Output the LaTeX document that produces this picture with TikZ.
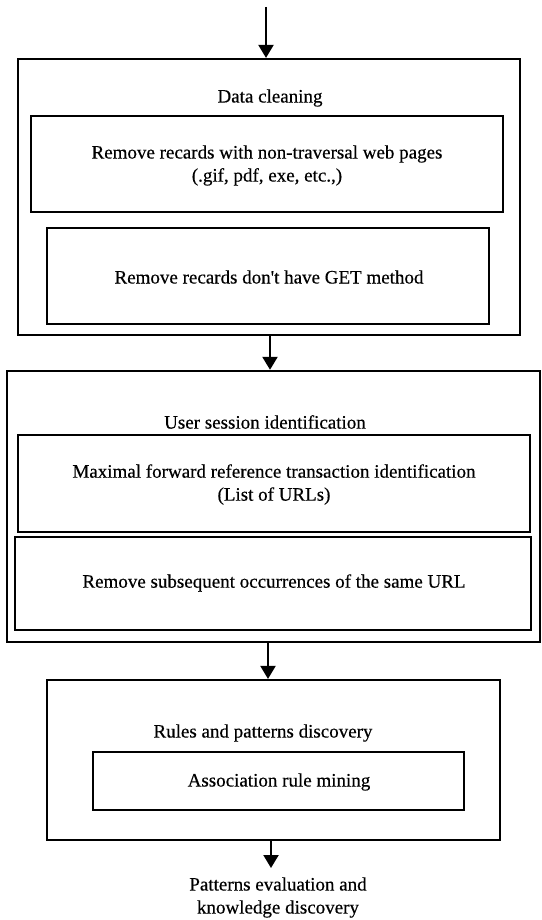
\documentclass[tikz,border=0pt]{standalone}
\usepackage{fontspec}
\setmainfont{Liberation Serif}
\newfontfamily\labelfont{Liberation Serif}[FakeBold=0.4]
\usetikzlibrary{arrows.meta}

\tikzset{
  box/.style={draw=black, line width=2.2pt, rectangle, inner sep=0pt, fill=none},
  heavybox/.style={box, line width=2.8pt},
  label/.style={inner sep=0pt, align=center, font=\labelfont\fontsize{19}{23}\selectfont},
  arr/.style={line width=2.2pt, -{Triangle[width=15pt,length=13pt]}},
}

\begin{document}
\begin{tikzpicture}[x=1pt, y=-1pt]
  % page frame
  \fill[white] (0,0) rectangle (541,920);
  \useasboundingbox (0,0) rectangle (541,920);

  % stage 1: data cleaning
  \node[box, minimum width=502pt, minimum height=276pt] (clean) at (269,197) {};
  \node[heavybox, minimum width=472pt, minimum height=96pt] (nontrav) at (267,164) {};
  \node[box, line width=2.5pt, minimum width=442pt, minimum height=96pt] (getm) at (268,276) {};
  \node[label] (cleanlbl) at (270,98) {Data cleaning};
  \node[label] (nontravlbl) at (267,165.5) {Remove recards with non-traversal web pages\\(.gif, pdf, exe, etc.,)};
  \node[label] (getmlbl) at (269,277) {Remove recards don\textquotesingle t have GET method};

  % stage 2: user session identification
  \node[box, line width=2.4pt, minimum width=533pt, minimum height=271pt] (sess) at (273.5,506.5) {};
  \node[box, minimum width=512pt, minimum height=97pt] (maxfwd) at (274,483.5) {};
  \node[box, minimum width=516pt, minimum height=93pt] (dedup) at (273,583.5) {};
  \node[label] (sesslbl) at (265,422) {User session identification};
  \node[label] (maxfwdlbl) at (274,484.5) {Maximal forward reference transaction identification\\(List of URLs)};
  \node[label] (deduplbl) at (274,583) {Remove subsequent occurrences of the same URL};

  % stage 3: rules and patterns discovery
  \node[box, minimum width=453pt, minimum height=160pt] (rules) at (273.5,760) {};
  \node[box, minimum width=371pt, minimum height=58pt] (assoc) at (278.5,781) {};
  \node[label] (ruleslbl) at (263,733) {Rules and patterns discovery};
  \node[label] (assoclbl) at (279,782) {Association rule mining};

  % result
  \node[label] (result) at (278,897.5) {Patterns evaluation and\\knowledge discovery};

  % flow arrows
  \coordinate (input) at (266,7);
  \coordinate (resulttop) at (271,868);
  \draw[arr] (input) -- (input |- clean.north);
  \draw[arr] ([xshift=1pt]clean.south) -- ([xshift=1pt]clean.south |- sess.north);
  \draw[arr] ([xshift=-5.5pt]sess.south) -- ([xshift=-5.5pt]sess.south |- rules.north);
  \draw[arr] (resulttop |- rules.south) -- (resulttop);
\end{tikzpicture}
\end{document}
